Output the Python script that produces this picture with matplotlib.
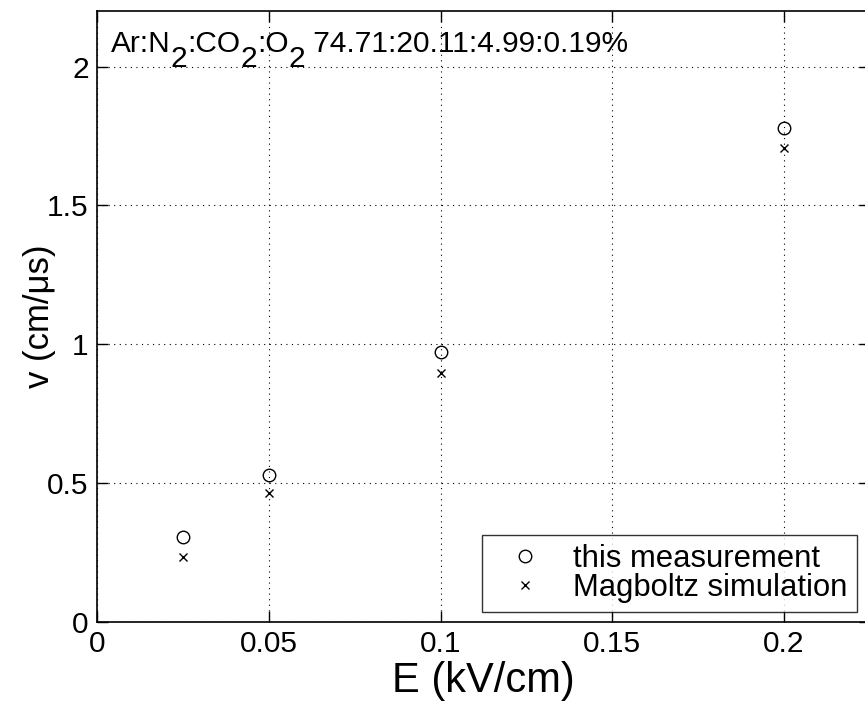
import matplotlib
matplotlib.use("Agg")
import matplotlib.pyplot as plt

plt.rcParams['font.family'] = ['Liberation Sans', 'DejaVu Sans']

# drift field (kV/cm) and drift velocity (cm/us)
field = [0.025, 0.05, 0.1, 0.2]
v_measured = [0.305, 0.531, 0.973, 1.777]
v_magboltz = [0.233, 0.463, 0.897, 1.705]

xticks = [0, 0.05, 0.1, 0.15, 0.2]
xticklabels = ["0", "0.05", "0.1", "0.15", "0.2"]
yticks = [0, 0.5, 1, 1.5, 2]
yticklabels = ["0", "0.5", "1", "1.5", "2"]

# gas mixture label, pieces with subscript flag
gas_pieces = [("Ar:N", False), ("2", True), (":CO", False), ("2", True),
              (":O", False), ("2", True), (" 74.71:20.11:4.99:0.19%", False)]

W, H = 865, 706
fig = plt.figure(figsize=(W / 100, H / 100), dpi=100)
ax = fig.add_axes([97 / W, 84 / H, 773 / W, 611 / H])

ax.plot(field, v_measured, 'o', mfc='none', mec='black', ms=9, mew=1.0,
        label="this measurement")
ax.plot(field, v_magboltz, 'x', color='black', ms=6, mew=1.0,
        label="Magboltz simulation")

ax.set_xlim(0, 0.225)
ax.set_ylim(0, 2.2)
ax.set_xticks(xticks)
ax.set_xticklabels(xticklabels)
ax.set_yticks(yticks)
ax.set_yticklabels(yticklabels)
ax.tick_params(direction='in', length=8, width=1, labelsize=21.5,
               top=True, right=True, pad=6)
ax.grid(True, color='black', linestyle=(0, (1, 4)), linewidth=0.8)
for s in ax.spines.values():
    s.set_linewidth(1.2)

ax.set_xlabel("E (kV/cm)", fontsize=30, labelpad=2)
ax.set_ylabel("v (cm/μs)", fontsize=25)
ax.yaxis.set_label_coords(-0.053, 0.5)

# text with big, low subscripts (matlab style)
renderer = fig.canvas.get_renderer()
xpix = 111
for piece, sub in gas_pieces:
    ypix = 67 if sub else 52
    t = fig.text(xpix / W, 1 - ypix / H, piece, fontsize=21.5,
                 va='baseline', ha='left')
    xpix += t.get_window_extent(renderer).width

leg = ax.legend(loc='lower right', bbox_to_anchor=(857 / W, 94 / H),
                bbox_transform=fig.transFigure, borderaxespad=0,
                fontsize=22.3, frameon=True, fancybox=False,
                handletextpad=0.45, borderpad=0.3, labelspacing=-0.05,
                handlelength=2.2)
leg.get_frame().set_edgecolor('black')
leg.get_frame().set_linewidth(1.0)

fig.savefig("out.png", dpi=100)
